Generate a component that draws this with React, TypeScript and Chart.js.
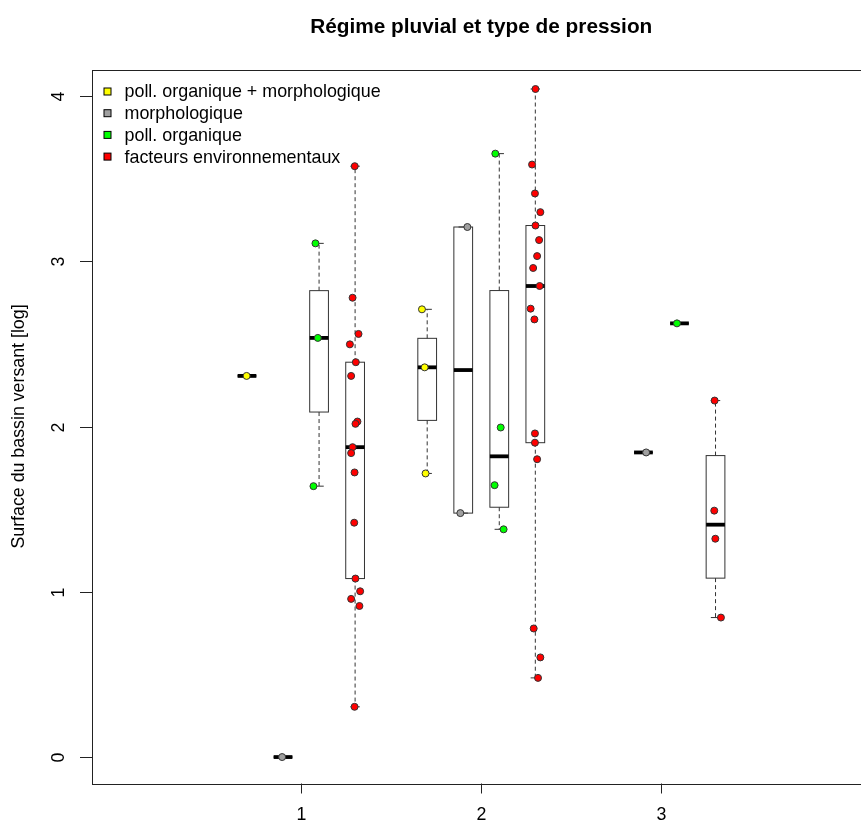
import React, { useEffect, useRef } from "react";
import { Chart, registerables } from "chart.js";

Chart.register(...registerables);

// ---------- data ----------
const chartTitle = "Régime pluvial et type de pression";
const yAxisTitle = "Surface du bassin versant [log]";
const xTickLabels = ["1", "2", "3"];
const xTickValues = [1, 2, 3];
const yTickValues = [0, 1, 2, 3, 4];
const typeNames = [
  "poll. organique + morphologique",
  "morphologique",
  "poll. organique",
  "facteurs environnementaux",
];

// jittered x position (group + offset) and log surface for each station
const polMorphX = [0.698, 1.671, 1.686, 1.691];
const polMorphY = [2.306, 2.709, 2.358, 1.716];

const morphoX = [0.895, 1.923, 1.884, 2.915];
const morphoY = [0.0, 3.207, 1.476, 1.843];

const orgX = [1.08, 1.093, 1.069, 2.078, 2.108, 2.074, 2.124, 3.086];
const orgY = [3.108, 2.536, 1.639, 3.651, 1.994, 1.645, 1.378, 2.624];

const envX = [
  1.298, 1.286, 1.319, 1.271, 1.304, 1.278, 1.313, 1.302, 1.286, 1.278, 1.297,
  1.295, 1.302, 1.328, 1.278, 1.324, 1.297,
  2.301, 2.282, 2.298, 2.328, 2.301, 2.321, 2.31, 2.288, 2.324, 2.274, 2.295,
  2.298, 2.298, 2.31, 2.291, 2.328, 2.315,
  3.295, 3.293, 3.299, 3.33,
];
const envY = [
  3.575, 2.779, 2.56, 2.497, 2.389, 2.306, 2.03, 2.016, 1.875, 1.839, 1.722,
  1.418, 1.08, 1.003, 0.957, 0.914, 0.304,
  4.042, 3.585, 3.41, 3.297, 3.216, 3.128, 3.031, 2.959, 2.85, 2.713, 2.648,
  1.958, 1.902, 1.802, 0.778, 0.603, 0.479,
  2.157, 1.491, 1.321, 0.844,
];

const seriesX = [polMorphX, morphoX, orgX, envX];
const seriesY = [polMorphY, morphoY, orgY, envY];

// ---------- styling / layout ----------
const typeColors = ["#FFFF00", "#A0A0A0", "#00FF00", "#FF0000"];
const typeOffsets = [-0.3, -0.1, 0.1, 0.3];
const boxHalfWidth = 0.052;
const FONT = '"Liberation Sans", Arial, sans-serif';
const CANVAS_W = 880;
const CANVAS_H = 822;

function fivenum(v: number[]): number[] {
  const x = [...v].sort((a, b) => a - b);
  const n = x.length;
  const n4 = Math.floor((n + 3) / 2) / 2;
  const d = [1, n4, (n + 1) / 2, n + 1 - n4, n];
  return d.map((di) => 0.5 * (x[Math.floor(di) - 1] + x[Math.ceil(di) - 1]));
}

const rPlotPlugin = {
  id: "rplot",
  beforeDatasetsDraw(chart: any) {
    const ctx = chart.ctx;
    const xs = chart.scales.x;
    const ys = chart.scales.y;
    const hw = xs.getPixelForValue(boxHalfWidth) - xs.getPixelForValue(0);
    ctx.save();
    for (let t = 0; t < seriesX.length; t++) {
      const byGroup: Record<number, number[]> = {};
      seriesX[t].forEach((xv, i) => {
        const g = Math.round(xv);
        (byGroup[g] = byGroup[g] || []).push(seriesY[t][i]);
      });
      Object.keys(byGroup).forEach((gk) => {
        const g = Number(gk);
        const vals = byGroup[g];
        const [, q1, med, q3] = fivenum(vals);
        const iqr = q3 - q1;
        const hiLim = q3 + 1.5 * iqr;
        const loLim = q1 - 1.5 * iqr;
        const wHi = Math.max(...vals.filter((v) => v <= hiLim));
        const wLo = Math.min(...vals.filter((v) => v >= loLim));
        const cx = xs.getPixelForValue(g + typeOffsets[t]);
        const pq1 = ys.getPixelForValue(q1);
        const pq3 = ys.getPixelForValue(q3);
        const pmed = ys.getPixelForValue(med);
        const pHi = ys.getPixelForValue(wHi);
        const pLo = ys.getPixelForValue(wLo);
        ctx.strokeStyle = "#333";
        ctx.lineWidth = 1;
        // whiskers
        ctx.setLineDash([4, 3]);
        ctx.beginPath();
        ctx.moveTo(cx, pq3);
        ctx.lineTo(cx, pHi);
        ctx.moveTo(cx, pq1);
        ctx.lineTo(cx, pLo);
        ctx.stroke();
        ctx.setLineDash([]);
        // staples
        ctx.beginPath();
        ctx.moveTo(cx - hw / 2, pHi);
        ctx.lineTo(cx + hw / 2, pHi);
        ctx.moveTo(cx - hw / 2, pLo);
        ctx.lineTo(cx + hw / 2, pLo);
        ctx.stroke();
        // box
        ctx.strokeRect(cx - hw, pq3, 2 * hw, pq1 - pq3);
        // median
        ctx.lineWidth = 3.8;
        ctx.strokeStyle = "#000";
        ctx.lineCap = "butt";
        ctx.beginPath();
        ctx.moveTo(cx - hw, pmed);
        ctx.lineTo(cx + hw, pmed);
        ctx.stroke();
      });
    }
    ctx.restore();
  },
  afterDatasetsDraw(chart: any) {
    const ctx = chart.ctx;
    const xs = chart.scales.x;
    const ys = chart.scales.y;
    const a = chart.chartArea;
    ctx.save();
    ctx.strokeStyle = "#222";
    ctx.lineWidth = 1;
    // frame
    ctx.strokeRect(Math.round(a.left) + 0.5, Math.round(a.top) + 0.5,
      Math.round(a.right - a.left), Math.round(a.bottom - a.top));
    ctx.fillStyle = "#000";
    ctx.font = `17.8px ${FONT}`;
    // x ticks
    ctx.textAlign = "center";
    ctx.textBaseline = "middle";
    xTickValues.forEach((v, i) => {
      const px = Math.round(xs.getPixelForValue(v)) + 0.5;
      ctx.beginPath();
      ctx.moveTo(px, a.bottom);
      ctx.lineTo(px, a.bottom + 10);
      ctx.stroke();
      ctx.fillText(xTickLabels[i], px, a.bottom + 32);
    });
    // y ticks
    yTickValues.forEach((v) => {
      const py = Math.round(ys.getPixelForValue(v)) + 0.5;
      ctx.beginPath();
      ctx.moveTo(a.left - 12, py);
      ctx.lineTo(a.left, py);
      ctx.stroke();
      ctx.save();
      ctx.translate(a.left - 33, py);
      ctx.rotate(-Math.PI / 2);
      ctx.fillText(String(v), 0, 0);
      ctx.restore();
    });
    // y axis title
    ctx.save();
    ctx.translate(19, (a.top + a.bottom) / 2);
    ctx.rotate(-Math.PI / 2);
    ctx.fillText(yAxisTitle, 0, 0);
    ctx.restore();
    // title
    ctx.font = `bold 20.8px ${FONT}`;
    ctx.fillText(chartTitle, (a.left + a.right) / 2, 27);
    // legend
    ctx.font = `17.9px ${FONT}`;
    ctx.textAlign = "left";
    typeNames.forEach((name, i) => {
      const ly = 91.5 + i * 21.7;
      ctx.fillStyle = typeColors[i];
      ctx.fillRect(104, ly - 3.5, 7, 7);
      ctx.strokeStyle = "#000";
      ctx.strokeRect(104, ly - 3.5, 7, 7);
      ctx.fillStyle = "#000";
      ctx.fillText(name, 124.5, ly + 1);
    });
    ctx.restore();
  },
};

export default function App() {
  const ref = useRef<HTMLCanvasElement | null>(null);
  useEffect(() => {
    if (!ref.current) return;
    const datasets = seriesX.map((xArr, t) => ({
      label: typeNames[t],
      data: xArr.map((xv, i) => ({ x: xv, y: seriesY[t][i] })),
      backgroundColor: typeColors[t],
      borderColor: "#333",
      borderWidth: 1,
      pointRadius: 3.5,
    }));
    const chart = new Chart(ref.current, {
      type: "scatter",
      data: { datasets },
      options: {
        animation: false,
        responsive: false,
        maintainAspectRatio: false,
        events: [],
        layout: {
          padding: { left: 92, top: 69.5, right: CANVAS_W - 870.5, bottom: CANVAS_H - 783.5 },
        },
        scales: {
          x: { type: "linear", min: -0.16, max: 4.16, display: false },
          y: { type: "linear", min: -0.16, max: 4.16, display: false },
        },
        plugins: { legend: { display: false }, tooltip: { enabled: false }, title: { display: false } },
      },
      plugins: [rPlotPlugin],
    } as any);
    return () => chart.destroy();
  }, []);
  return (
    <div style={{ position: "absolute", left: 0, top: 0, width: 861, height: 822, overflow: "hidden", background: "#fff" }}>
      <canvas ref={ref} width={CANVAS_W} height={CANVAS_H} style={{ display: "block", width: CANVAS_W, height: CANVAS_H }} />
    </div>
  );
}
